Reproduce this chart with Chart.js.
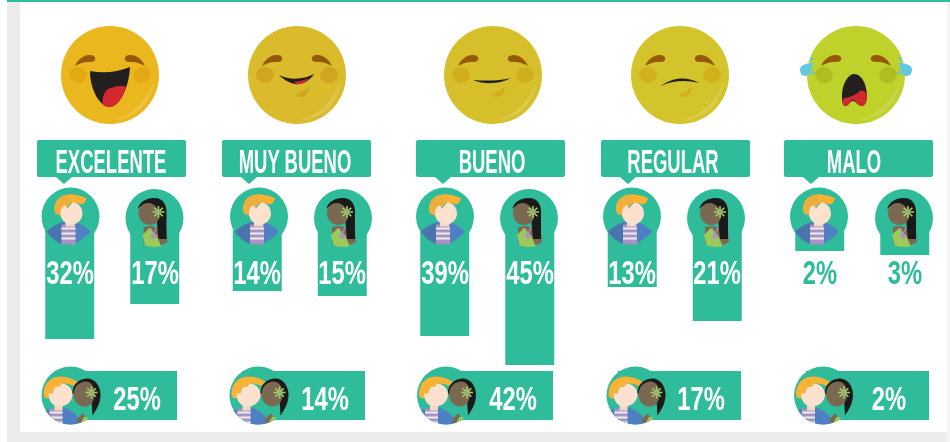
<!DOCTYPE html>
<html lang="es">
<head>
<meta charset="utf-8">
<title>Encuesta de satisfacción</title>
<script src="https://cdn.jsdelivr.net/npm/chart.js@4"></script>
<style>
html, body { margin: 0; padding: 0; background: #fff; }
#page { position: relative; width: 950px; height: 442px; overflow: hidden; background: #fff; }
.band { position: absolute; background: #ececec; }
#topLine { position: absolute; left: 7px; top: 0; width: 943px; height: 2px; background: #2fbc9b; }
#mainChart { position: absolute; left: 0; top: 0; z-index: 1; }
.overallChart { position: absolute; top: 371px; z-index: 1; }
#art { position: absolute; left: 0; top: 0; z-index: 2; }
.txt {
    position: absolute; z-index: 3; white-space: nowrap; line-height: 1;
    font-family: "Liberation Sans Narrow", "Liberation Sans", sans-serif;
    font-size: 33px; font-weight: bold; color: #fff;
    transform: translate(-50%, -50%) scaleX(.72);
}
.title { transform: translate(-50%, -50%) scaleX(.56); }
.green { color: #2fbc9b; }
</style>
</head>
<body>
<div id="page">
    <div class="band" style="left:7px;top:0;width:13px;height:442px"></div>
    <div class="band" style="left:7px;top:432px;width:943px;height:10px"></div>
    <div class="band" style="left:947px;top:0;width:3px;height:442px;background:#f3f3f3"></div>
    <div id="topLine"></div>
    <canvas id="mainChart" width="956" height="371"></canvas>
    <svg id="art" width="950" height="442" viewBox="0 0 950 442" xmlns="http://www.w3.org/2000/svg">
        <defs>
            <clipPath id="clipR29"><circle r="29"/></clipPath>
            <g id="male">
                <circle r="29" fill="#2fbc9b"/>
                <g clip-path="url(#clipR29)">
                    <path d="M-24,15 C-14,6 -6,5 -2,5 C4,5 12,7 20,15 C12,24 4,28 -2,28 C-10,28 -18,23 -24,15Z" fill="#5080c4"/>
                    <path d="M-24,15 C-18,10 -12,7 -8,6 L-8,28 C-14,26 -20,21 -24,15Z" fill="#4a74ad"/>
                    <rect x="-9" y="8" width="14" height="20" fill="#a794c4"/>
                    <rect x="-9" y="11" width="14" height="2" fill="#eee"/>
                    <rect x="-9" y="16" width="14" height="2" fill="#eee"/>
                    <rect x="-9" y="21" width="14" height="2" fill="#eee"/>
                    <rect x="-5" y="3" width="9" height="7" fill="#f6d7c3"/>
                    <path d="M-16,-6 C-17,-16 -10,-22 -2,-22 C6,-22 12,-20 16,-18 C14,-13 12,-11 8,-13 L1,-14 L-5,-7 L-10,-1 C-14,-2 -16,-3 -16,-6Z" fill="#eeae3b"/>
                    <path d="M-2,-22 C6,-22 12,-20 16,-18 C14,-13 12,-11 8,-13 L1,-14 C0,-18 -1,-20 -2,-22Z" fill="#f9b233"/>
                    <path d="M-10,-3 C-10,-9 -7,-11 -5,-11 L-3,-8 L2,-14 C8,-14 12,-9 12,-3 C12,3 7,8 1,8 C-5,8 -10,3 -10,-3Z" fill="#fce1ce"/>
                </g>
            </g>
            <g id="flower" stroke="#a3d35f" stroke-width="1.6">
                <line x1="0" y1="-6" x2="0" y2="6"/>
                <line x1="-6" y1="0" x2="6" y2="0"/>
                <line x1="-4.3" y1="-4.3" x2="4.3" y2="4.3"/>
                <line x1="-4.3" y1="4.3" x2="4.3" y2="-4.3"/>
                <circle r="1.6" fill="#a794c4" stroke="none"/>
            </g>
            <g id="female">
                <circle r="29" fill="#2fbc9b"/>
                <g clip-path="url(#clipR29)">
                    <path d="M-11,9 L-3,8 L12,13 L13,24 C6,29 -6,29 -11,25Z" fill="#7a6851"/>
                    <path d="M-12,17 L-5,10 L2,17 L7,29 L-9,29Z" fill="#9cc95a"/>
                    <path d="M-4,10 L-1,16 L2,10" stroke="#a794c4" stroke-width="1.2" fill="none"/>
                    <circle cx="-1" cy="18" r="2.6" fill="#a794c4"/>
                    <path d="M-17,-9 C-14,-18 -6,-20 0,-20 C8,-20 12,-14 12,-6 L12,21 L4,21 L2,0 L-8,-12 C-12,-13 -15,-11 -17,-9Z" fill="#1a1a1a"/>
                    <path d="M-16,-5 C-16,-12 -11,-15 -6,-15 C0,-15 5,-8 5,-3 C5,4 0,7 -5,7 C-11,7 -16,2 -16,-5Z" fill="#7a6851"/>
                    <use href="#flower" x="4" y="-6"/>
                </g>
            </g>
            <g id="both">
                <circle r="29" fill="#2fbc9b"/>
                <g clip-path="url(#clipR29)">
                    <path d="M-28,16 C-20,12 -10,11 -4,13 C3,16 9,22 11,29 L-28,32Z" fill="#5080c4"/>
                    <rect x="-21" y="13" width="13" height="18" fill="#a794c4"/>
                    <rect x="-21" y="16" width="13" height="2" fill="#eee"/>
                    <rect x="-21" y="21" width="13" height="2" fill="#eee"/>
                    <rect x="-21" y="26" width="13" height="2" fill="#eee"/>
                    <rect x="-16" y="8" width="8" height="7" fill="#f6d7c3"/>
                    <path d="M-27,-1 C-27,-14 -18,-19 -10,-19 C-2,-19 6,-15 9,-12 C7,-10 4,-10 2,-10 C-2,-12 -6,-12 -9,-12 L-11,-9 L-16,-8 L-18,-2 L-22,3 C-25,3 -27,2 -27,-1Z" fill="#f9b233"/>
                </g>
                <path d="M-22,-2 L-18,-2 L-16,-8 L-11,-9 L-9,-12 C-3,-12 2,-7 2,-1 C2,6 -4,11 -11,11 C-18,11 -22,5 -22,-2Z" fill="#fce1ce"/>
                <g clip-path="url(#clipR29)">
                    <path d="M6,24 L12,18 L16,22 L14,29 L8,29Z" fill="#7a6851"/>
                    <path d="M9,29 L14,21 L20,23 L17,29Z" fill="#9cc95a"/>
                </g>
                <path d="M2,-2 C2,-14 12,-17 17,-17 C25,-17 30,-9 30,-1 C30,8 26,14 22,20 L21,4Z" fill="#1a1a1a"/>
                <path d="M3,-1 C3,-9 9,-14 15,-14 C21,-14 24,-8 24,-2 C24,6 20,11 14,11 C8,11 3,6 3,-1Z" fill="#7a6851"/>
                <use href="#flower" x="21" y="-3"/>
            </g>
            <g id="brows" fill="#965a06">
                <path d="M-35,-9 C-32,-16 -26,-20 -21,-20 C-16,-20 -14,-18 -15,-15 C-16,-13 -19,-13 -22,-13 C-27,-13 -31,-11 -35,-9Z"/>
                <path d="M35,-9 C32,-16 26,-20 21,-20 C16,-20 14,-18 15,-15 C16,-13 19,-13 22,-13 C27,-13 31,-11 35,-9Z"/>
            </g>
            <path id="shine" d="M2,45 C20,42 38,25 44,5 C42,28 25,45 2,45Z" fill="#fff" opacity=".15"/>
            <path id="chin" d="M-1,20 C3,17 9,15 12,12 C12,19 7,23 4,22 C2,22 0,21 -1,20Z"/>
        </defs>
        <g id="faces"></g>
        <g id="callouts" fill="#2fbc9b"></g>
        <g id="avatars"></g>
    </svg>
</div>
<script>
// values printed in the picture (percent)
const categories = ['EXCELENTE', 'MUY BUENO', 'BUENO', 'REGULAR', 'MALO'];
const maleShare = [32, 14, 39, 13, 2];
const femaleShare = [17, 15, 45, 21, 3];
const overallShare = [25, 14, 42, 17, 2];

// bar lengths: the source infographic does not draw them
// to scale with its percentages, so they are kept apart from the printed numbers
const maleBar = [36.3, 20.3, 35.3, 19, 7];
const femaleBar = [24.7, 22, 45, 30.3, 8.3];
const overallBar = [41, 41, 41, 41, 41];

const green = '#2fbc9b';

/* =========================
   Vertical bars
   ========================= */

const mainChart = new Chart(document.getElementById('mainChart'), {
    type: 'bar',
    data: {
        labels: categories,
        datasets: [
            { label: 'Hombres', data: maleBar, backgroundColor: green },
            { label: 'Mujeres', data: femaleBar, backgroundColor: green }
        ]
    },
    options: {
        responsive: false,
        animation: false,
        layout: { padding: { left: 18.5, top: 230 } },
        categoryPercentage: 0.907,
        barPercentage: 0.576,
        plugins: { legend: { display: false }, tooltip: { enabled: false } },
        scales: {
            x: { display: false },
            y: { display: false, reverse: true, min: 0, max: 47 }
        }
    }
});

/* =========================
   Horizontal bars
   ========================= */

categories.forEach((name, i) => {
    const canvas = document.createElement('canvas');
    canvas.className = 'overallChart';
    canvas.width = 123;
    canvas.height = 49;
    canvas.style.left = (54 + 188 * i) + 'px';
    document.getElementById('page').appendChild(canvas);
    new Chart(canvas, {
        type: 'bar',
        data: {
            labels: [name],
            datasets: [{ label: 'Total', data: [overallBar[i]], backgroundColor: green }]
        },
        options: {
            indexAxis: 'y',
            responsive: false,
            animation: false,
            categoryPercentage: 1,
            barPercentage: 1,
            plugins: { legend: { display: false }, tooltip: { enabled: false } },
            scales: {
                x: { display: false, min: 0, max: 41 },
                y: { display: false }
            }
        }
    });
});

/* =========================
   Faces, callouts and avatars
   ========================= */

const faceStyles = [
    { x: 110, fill: '#eab81e', cheek: '#e4a814',
      mouth: '<path d="M-20,-4 Q0,0 20,-8 C19,15 8,32 0,32 C-10,32 -20,15 -20,-4Z" fill="#231f20"/>' +
             '<path d="M-7,30 C-9,20 -3,12 2,13 C4,11 13,10 16,12 C13,22 7,32 0,32 C-3,32 -6,31 -7,30Z" fill="#d2282e"/>' },
    { x: 297, fill: '#dabb2c', cheek: '#d1a61e', chin: true,
      mouth: '<path d="M-18,0 C-8,5 6,5 17,-1 C11,8 3,10 -2,9 C-8,8 -14,4 -18,0Z" fill="#231f20"/>' +
             '<path d="M-3,7 C2,7 7,5 12,3 C8,8 3,10 -1,9Z" fill="#d2282e"/>' },
    { x: 493, fill: '#d7bf2b', cheek: '#d1ae1e', chin: true,
      mouth: '<path d="M-20,5 C-8,6 8,6 18,3 C8,9 -8,10 -20,5Z" fill="#231f20"/>' },
    { x: 680, fill: '#d4c42b', cheek: '#d1b21e', chin: true,
      mouth: '<path d="M-19,11 C-8,2 8,1 19,8 C8,5 -8,5 -19,11Z" fill="#231f20"/>' },
    { x: 856, fill: '#bfd12b', cheek: '#b0bc1f', tears: true,
      mouth: '<path d="M-14,22 C-14,6 -6,-1 -2,-1 C6,-1 11,10 11,21 C11,28 8,31 6,31 C2,31 0,26 -3,26 C-6,26 -8,32 -11,31 C-13,31 -14,27 -14,22Z" fill="#231f20"/>' +
             '<path d="M-13,24 C-8,22 -1,21 4,16 C8,14 11,18 11,22 C11,28 8,31 6,31 C2,31 0,25 -3,25 C-6,25 -8,32 -11,31 C-13,31 -14,27 -13,24Z" fill="#d2282e"/>' }
];

const tearDrops =
    '<path d="M-56,-5 C-56,-10 -50,-12 -43,-12 C-44,-5 -46,1 -51,1 C-54,1 -56,-2 -56,-5Z"/>' +
    '<circle cx="-44" cy="-16" r="1.8"/><circle cx="-43" cy="-2" r="1.8"/>';

document.getElementById('faces').innerHTML = faceStyles.map(f =>
    `<g transform="translate(${f.x},75)">
        <circle r="49" fill="${f.fill}"/>
        <use href="#shine"/>
        <ellipse cx="-32" cy="0" rx="9" ry="8" fill="${f.cheek}" transform="rotate(15 -32 0)"/>
        <ellipse cx="32" cy="0" rx="9" ry="8" fill="${f.cheek}" transform="rotate(-15 32 0)"/>
        <use href="#brows"/>
        ${f.mouth}
        ${f.chin ? `<use href="#chin" fill="${f.cheek}"/>` : ''}
        ${f.tears ? `<g fill="#62c9e4">${tearDrops}<g transform="scale(-1,1)">${tearDrops}</g></g>` : ''}
    </g>`).join('');

const calloutLeft = [37, 222, 416, 601, 784];
const titleX = [111, 295, 492, 673, 854];

document.getElementById('callouts').innerHTML = calloutLeft.map(x =>
    `<rect x="${x}" y="140" width="149" height="37" rx="2"/>
     <polygon points="${x + 19},177 ${x + 35},177 ${x + 27},184"/>`).join('');

const maleCircleX = [70.5, 259, 445, 632, 819];
const femaleCircleX = [154.5, 343, 529, 716, 904];
const bothCircleX = [70.5, 258.5, 446, 635.5, 823];

document.getElementById('avatars').innerHTML = categories.map((c, i) =>
    `<use href="#male" x="${maleCircleX[i]}" y="216.5"/>
     <use href="#female" x="${femaleCircleX[i]}" y="218"/>
     <use href="#both" x="${bothCircleX[i]}" y="395.5"/>`).join('');

/* =========================
   Text
   ========================= */

function addText(text, x, y, cls) {
    const el = document.createElement('div');
    el.className = 'txt ' + (cls || '');
    el.textContent = text;
    el.style.left = x + 'px';
    el.style.top = y + 'px';
    document.getElementById('page').appendChild(el);
}

categories.forEach((name, i) => {
    addText(name, titleX[i], 160.5, 'title');
    // the two short MALO bars leave their numbers on the white background
    const cls = maleShare[i] < 10 ? 'green' : '';
    addText(maleShare[i] + '%', mainChart.getDatasetMeta(0).data[i].x, 272, cls);
    addText(femaleShare[i] + '%', mainChart.getDatasetMeta(1).data[i].x, 272, cls);
    addText(overallShare[i] + '%', 137 + 188 * i, 398);
});
</script>
</body>
</html>
